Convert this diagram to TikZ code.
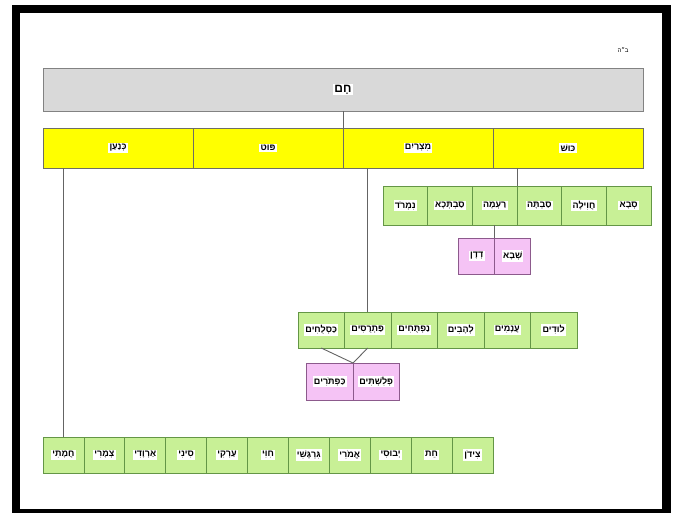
\documentclass[tikz,border=0pt]{standalone}
\usepackage{fontspec}
\usepackage{xcolor}
\usetikzlibrary{positioning,calc}
\TeXXeTstate=1
\newfontfamily\hebfont[Script=Hebrew]{Liberation Sans}
\setlength{\fboxsep}{1.2pt}
\newcommand{\hw}[1]{\colorbox{white}{\beginR #1\endR}}

\begin{document}
\begin{tikzpicture}[x=1pt,y=-1pt]
	\definecolor{hamgray}{RGB}{217,217,217}
	\definecolor{hamedge}{RGB}{130,130,130}
	\definecolor{sonyellow}{RGB}{255,255,0}
	\definecolor{rowedge}{RGB}{110,110,100}
	\definecolor{leafgreen}{RGB}{200,240,150}
	\definecolor{leafedge}{RGB}{100,150,70}
	\definecolor{pinkfill}{RGB}{245,195,245}
	\definecolor{pinkedge}{RGB}{140,90,140}
	\definecolor{linegray}{RGB}{100,100,100}
	\tikzset{
		cell/.style={
			rectangle,
			line width=0.7pt,
			inner sep=0pt,
			outer sep=0pt,
			font=\hebfont\bfseries\fontsize{9}{10}\selectfont
		},
		hambox/.style={cell, fill=hamgray, draw=hamedge,
			minimum width=600, minimum height=43,
			font=\hebfont\bfseries\fontsize{12}{13}\selectfont},
		yel/.style={cell, fill=sonyellow, draw=rowedge,
			minimum width=150, minimum height=40},
		grn/.style={cell, fill=leafgreen, draw=leafedge,
			minimum width=#1, minimum height=36},
		pnk/.style={cell, fill=pinkfill, draw=pinkedge,
			minimum width=#1, minimum height=36},
		conn/.style={draw=linegray, line width=0.9pt}
	}
	\useasboundingbox (0,0) rectangle (675,512);
	\fill[white] (0,0) rectangle (675,512);
	
	% ======= מסגרת =======
	\draw[line width=8.5pt] (16,9) rectangle (666.5,513);
	\node[font=\hebfont\fontsize{6}{7}\selectfont] (bh) at (623,50) {\beginR ב״ה\endR};
	
	% ======= חם ובניו =======
	\node[hambox] (ham) at (343,89.5) {\hw{חָם}};
	
	\node[yel] (canaan) at (118,148) {\hw{כְּנַעַן}};
	\node[yel] (put)    at (268,148) {\hw{פּוּט}};
	\node[yel] (mizr)   at (418,148) {\hw{מִצְרַיִם}};
	\node[yel] (kush)   at (568,148) {\hw{כּוּשׁ}};
	
	% ======= בני כוש =======
	\node[grn=44.67, minimum height=39] (nimrod)   at (405.3,205.5) {\hw{נִמְרֹד}};
	\node[grn=44.67, minimum height=39] (savtecha) at (450.0,205.5) {\hw{סַבְתְּכָא}};
	\node[grn=44.67, minimum height=39] (raama)    at (494.7,205.5) {\hw{רַעְמָה}};
	\node[grn=44.67, minimum height=39] (savta)    at (539.3,205.5) {\hw{סַבְתָּה}};
	\node[grn=44.67, minimum height=39] (havila)   at (584.0,205.5) {\hw{חֲוִילָה}};
	\node[grn=44.67, minimum height=39] (seva)     at (628.7,205.5) {\hw{סְבָא}};
	
	\node[pnk=36] (dedan) at (476.7,256) {\hw{דְדָן}};
	\node[pnk=36] (sheba) at (512.7,256) {\hw{שְׁבָא}};
	
	% ======= בני מצרים =======
	\node[grn=46.5] (kasluchim) at (321.25,330) {\hw{כַּסְלֻחִים}};
	\node[grn=46.5] (patrusim)  at (367.75,330) {\hw{פַּתְרֻסִים}};
	\node[grn=46.5] (naftuchim) at (414.25,330) {\hw{נַפְתֻּחִים}};
	\node[grn=46.5] (lehavim)   at (460.75,330) {\hw{לְהָבִים}};
	\node[grn=46.5] (anamim)    at (507.25,330) {\hw{עֲנָמִים}};
	\node[grn=46.5] (ludim)     at (553.75,330) {\hw{לוּדִים}};
	
	\node[pnk=46.5, minimum height=37] (kaftorim) at (329.75,381.5) {\hw{כַּפְתֹּרִים}};
	\node[pnk=46.5, minimum height=37] (plishtim) at (376.25,381.5) {\hw{פְּלִשְׁתִּים}};
	
	% ======= בני כנען =======
	\node[grn=40.9] (hamati)   at (63.45,455)  {\hw{חֲמָתִי}};
	\node[grn=40.9] (tzmari)   at (104.35,455) {\hw{צְמָרִי}};
	\node[grn=40.9] (arvadi)   at (145.25,455) {\hw{אַרְוָדִי}};
	\node[grn=40.9] (sini)     at (186.15,455) {\hw{סִינִי}};
	\node[grn=40.9] (arki)     at (227.05,455) {\hw{עַרְקִי}};
	\node[grn=40.9] (hivi)     at (267.95,455) {\hw{חִוִּי}};
	\node[grn=40.9] (girgashi) at (308.85,455) {\hw{גִּרְגָּשִׁי}};
	\node[grn=40.9] (emori)    at (349.75,455) {\hw{אֱמֹרִי}};
	\node[grn=40.9] (yevusi)   at (390.65,455) {\hw{יְבוּסִי}};
	\node[grn=40.9] (het)      at (431.55,455) {\hw{חֵת}};
	\node[grn=40.9] (tzidon)   at (472.45,455) {\hw{צִידֹן}};
	
	% ======= קווים =======
	\draw[conn] (ham.south) -- (mizr.north west);
	\draw[conn] (raama.north east |- kush.south) -- (raama.north east);
	\draw[conn] (raama.south) -- (sheba.north west);
	\draw[conn] (patrusim.north |- mizr.south) -- (patrusim.north);
	\draw[conn] (kasluchim.south) -- (plishtim.north west);
	\draw[conn] (patrusim.south) -- (plishtim.north west);
	\draw[conn] (hamati.north |- canaan.south) -- (hamati.north);
\end{tikzpicture}
\end{document}
